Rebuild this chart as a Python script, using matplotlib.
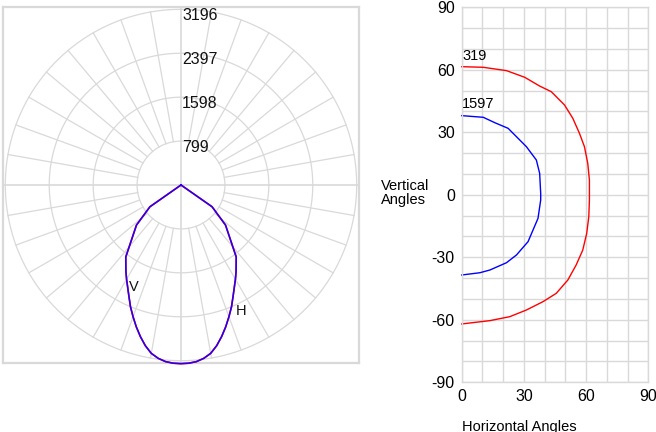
import numpy as np
import matplotlib
matplotlib.use("Agg")
import matplotlib.pyplot as plt

plt.rcParams['font.family'] = ['Liberation Sans', 'DejaVu Sans']
plt.rcParams['axes.unicode_minus'] = False

# ---- polar candela data (angle from nadir, degrees) ----
polar_angles = [0, 2.5, 5, 7.5, 10, 12.5, 15, 17.5, 20, 22.5, 25, 27.5, 30,
                32.5, 35, 37.5, 48, 55, 60, 90]
v_candela = [3250, 3245, 3225, 3180, 3110, 2995, 2855, 2705, 2550, 2400, 2240, 2100, 1980,
             1865, 1750, 1650, 1090, 690, 0, 0]
h_candela = [3250, 3245, 3225, 3180, 3110, 2995, 2855, 2705, 2550, 2400, 2240, 2100, 1980,
             1865, 1750, 1650, 1090, 690, 0, 0]
ring_values = [799, 1598, 2397, 3196]
ring_labels = ["799", "1598", "2397", "3196"]
plot_max = 3238

# ---- isocandela data (horizontal angle, vertical angle) ----
iso_319_h = [0, 10.4, 21.6, 30.4, 37.6, 43.2, 49.6, 53.6, 56.8, 59.2, 60.8, 61.6,
             61.6, 61.3, 60.3, 58.4, 55.2, 51.2, 45.6, 39.2, 31.2, 23.2, 13.6, 0]
iso_319_v = [61.5, 61.2, 59.6, 56.4, 52.2, 49.5, 43.1, 36.7, 29.5, 23.1, 15.1, 7.1,
             -2.5, -10.5, -18.5, -26.5, -33.7, -40.9, -47.3, -51.3, -55.3, -58.5, -60.4, -62.0]
iso_1597_h = [0, 10.4, 16, 22.4, 31.2, 36, 37.6, 38.1, 38.1, 36.8, 32, 26.4, 21.6, 13.6, 8.8, 0]
iso_1597_v = [38.0, 37.2, 34.6, 31.9, 23.1, 16.7, 10.3, 0.7, -2.5, -11.3, -22.5, -28.9,
              -32.6, -36.1, -37.4, -38.5]

grid_col = "#d9d9d9"

fig = plt.figure(figsize=(6.56, 4.32), dpi=100)

# =========================
# polar candela plot (drawn on cartesian axes)
# =========================
ax1 = fig.add_axes([3 / 656, 69 / 432, 356 / 656, 356 / 432])
ax1.set_xlim(-plot_max, plot_max)
ax1.set_ylim(-plot_max, plot_max)
ax1.set_aspect("equal")
ax1.set_xticks([])
ax1.set_yticks([])
for s in ax1.spines.values():
    s.set_color(grid_col)
    s.set_linewidth(1.6)

t = np.linspace(0, 2 * np.pi, 361)
for r in ring_values:
    ax1.plot(r * np.cos(t), r * np.sin(t), color=grid_col, lw=0.9, zorder=1)
for a in range(0, 360, 10):
    if a % 90 == 0:
        continue
    rad = np.radians(a)
    ax1.plot([ring_values[0] * np.cos(rad), ring_values[-1] * np.cos(rad)],
             [ring_values[0] * np.sin(rad), ring_values[-1] * np.sin(rad)],
             color=grid_col, lw=0.9, zorder=1)
ax1.axhline(0, color=grid_col, lw=1.2, zorder=1)
ax1.axvline(0, color=grid_col, lw=1.2, zorder=1)

for r, lab in zip(ring_values, ring_labels):
    ax1.text(20, r + 20, lab, ha="left", va="top", fontsize=11.5, color="#111111")

ang = np.radians(np.array(polar_angles))
full_ang = np.concatenate([-ang[::-1], ang[1:]])
hv = np.array(h_candela)
vv = np.array(v_candela)
h_full = np.concatenate([hv[::-1], hv[1:]])
v_full = np.concatenate([vv[::-1], vv[1:]])
ax1.plot(h_full * np.sin(full_ang), -h_full * np.cos(full_ang), color="#ff0000",
         lw=1.2, zorder=3, clip_on=False)
ax1.plot(v_full * np.sin(full_ang), -v_full * np.cos(full_ang), color="#2000ff",
         lw=1.1, zorder=4, clip_on=False)

ax1.text(-949, -1855, "V", ha="left", va="center", fontsize=10.5, color="#111111")
ax1.text(991, -2283, "H", ha="left", va="center", fontsize=10.5, color="#111111")

# =========================
# isocandela plot
# =========================
ax2 = fig.add_axes([461.7 / 656, 49.7 / 432, 186.6 / 656, 375 / 432])
ax2.set_xlim(0, 90)
ax2.set_ylim(-90, 90)
ax2.set_xticks([0, 30, 60, 90])
ax2.set_yticks([-90, -60, -30, 0, 30, 60, 90])
ax2.set_xticks(np.arange(0, 91, 10), minor=True)
ax2.set_yticks(np.arange(-90, 91, 10), minor=True)
ax2.grid(True, which="both", color=grid_col, lw=1.0)
ax2.tick_params(which="both", length=0, labelsize=11.5, pad=5)
for s in ax2.spines.values():
    s.set_color(grid_col)
    s.set_linewidth(1.0)
ax2.set_axisbelow(True)

ax2.plot(iso_319_h, iso_319_v, color="#ff0000", lw=1.0, clip_on=False)
ax2.plot(iso_1597_h, iso_1597_v, color="#0000ff", lw=1.0, clip_on=False)
ax2.text(0.3, iso_319_v[0] + 2, "319", ha="left", va="bottom", fontsize=10.5)
ax2.text(0.3, iso_1597_v[0] + 2, "1597", ha="left", va="bottom", fontsize=10.5)

fig.text(381 / 656, 1 - 193 / 432, "Vertical\nAngles", ha="left", va="center",
         fontsize=10.5, linespacing=0.95)
fig.text(461.7 / 656, 1 - 426.5 / 432, "Horizontal Angles", ha="left", va="center",
         fontsize=10.5)

fig.savefig("out.png", dpi=100)
